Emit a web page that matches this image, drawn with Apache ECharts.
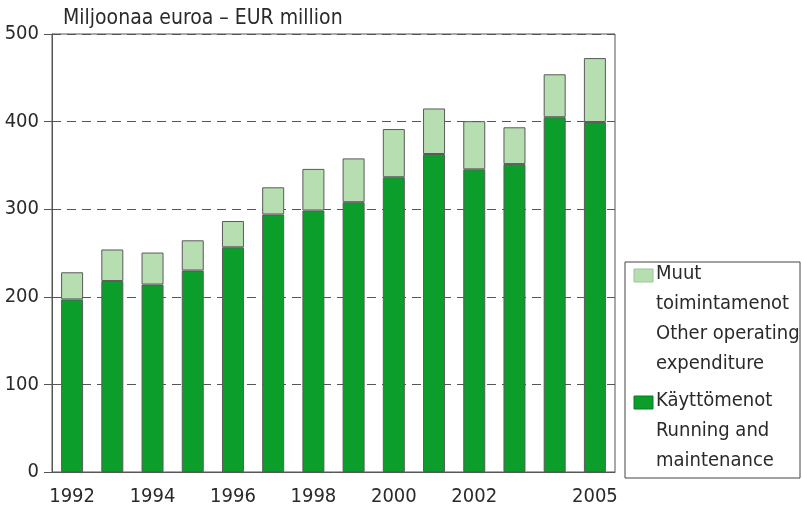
<!DOCTYPE html>
<html><head><meta charset="utf-8">
<script src="https://cdn.jsdelivr.net/npm/echarts@6/dist/echarts.min.js"></script>
<style>html,body{margin:0;padding:0;background:#fff}#c{width:802px;height:509px}</style>
</head><body><div id="c"></div>
<script>
const years = ['1992','1993','1994','1995','1996','1997','1998','1999','2000','2001','2002','2003','2004','2005'];
const shownYears = ['1992','1994','1996','1998','2000','2002','2005'];
const running = [197, 218, 214, 230, 256.5, 294, 298.5, 308, 336.5, 363, 345.5, 351.5, 405, 399.5];
const other = [31, 36, 36.5, 34.5, 30, 31, 47.5, 50, 55, 52, 55, 42, 49, 73];
const yTicks = [0, 100, 200, 300, 400, 500];
const title = 'Miljoonaa euroa – EUR million';
const seriesNames = ['Käyttömenot\nRunning and\nmaintenance', 'Muut\ntoimintamenot\nOther operating\nexpenditure'];

const FONT = '"Liberation Sans Narrow","DejaVu Sans Condensed","Roboto Condensed",sans-serif';
const dark = '#0b9e2b', light = '#b6deb1', edge = '#5a5a5a', txt = '#2a2a2a';
const chart = echarts.init(document.getElementById('c'), null, {renderer: 'canvas'});

const L = {x: 625, y: 262, w: 175, h: 216};
const legendGraphics = [
  {type: 'rect', shape: {x: L.x, y: L.y, width: L.w, height: L.h}, style: {fill: '#fff', stroke: '#444', lineWidth: 1}},
  {type: 'rect', shape: {x: L.x + 9, y: L.y + 7, width: 19, height: 13}, style: {fill: light, stroke: '#9ac596', lineWidth: 1}},
  {type: 'text', x: L.x + 31, y: L.y - 3, style: {text: seriesNames[1], font: '20px ' + FONT, lineHeight: 30, fill: txt}},
  {type: 'rect', shape: {x: L.x + 9, y: L.y + 134, width: 19, height: 13}, style: {fill: dark, stroke: '#0a7a22', lineWidth: 1}},
  {type: 'text', x: L.x + 31, y: L.y + 124, style: {text: seriesNames[0], font: '20px ' + FONT, lineHeight: 30, fill: txt}}
];

chart.setOption({
  animation: false,
  backgroundColor: '#fff',
  textStyle: {fontFamily: FONT},
  title: {text: title, left: 58, top: 3, textStyle: {fontFamily: FONT, fontSize: 21, fontWeight: 'normal', color: txt}},
  grid: {left: 52, right: 187, top: 34, bottom: 37, show: true, borderColor: '#555', borderWidth: 1, backgroundColor: 'transparent'},
  xAxis: {
    type: 'category', data: years, boundaryGap: true,
    axisLine: {lineStyle: {color: '#555', width: 1}},
    axisTick: {alignWithLabel: true, length: 8, interval: 0, lineStyle: {color: '#555'}},
    axisLabel: {
      interval: 0, margin: 15, fontSize: 20, color: txt, fontFamily: FONT,
      formatter: v => shownYears.includes(v) ? v : ''
    }
  },
  yAxis: {
    type: 'value', min: yTicks[0], max: yTicks[yTicks.length - 1], interval: 100,
    axisLine: {show: true, lineStyle: {color: '#555', width: 1}},
    axisTick: {show: true, length: 8, lineStyle: {color: '#555'}},
    axisLabel: {fontSize: 20, color: txt, margin: 13, fontFamily: FONT},
    splitLine: {show: true, lineStyle: {color: '#555', type: [9, 6], width: 1}}
  },
  series: [
    {name: seriesNames[0], type: 'bar', stack: 't', data: running, barWidth: 22,
     itemStyle: {color: dark, borderColor: edge, borderWidth: 1}},
    {name: seriesNames[1], type: 'bar', stack: 't', data: other, barWidth: 22,
     itemStyle: {color: light, borderColor: edge, borderWidth: 1}}
  ],
  graphic: legendGraphics
});
</script></body></html>
